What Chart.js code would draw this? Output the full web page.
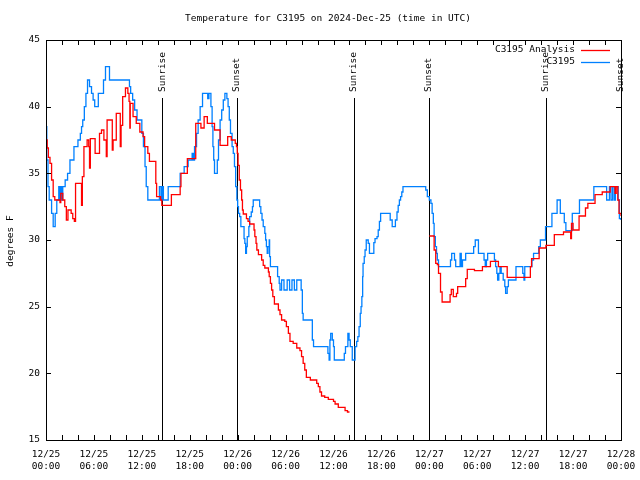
<!DOCTYPE html>
<html><head><meta charset="utf-8">
<script src="https://cdn.jsdelivr.net/npm/chart.js@4.4.0/dist/chart.umd.min.js"></script>
<style>html,body{margin:0;padding:0;background:#fff;} canvas{display:block;}</style>
</head><body>
<canvas id="c" width="640" height="480"></canvas>
<script>
const titleText = 'Temperature for C3195 on 2024-Dec-25 (time in UTC)';
const yAxisLabel = 'degrees F';
const dateLabels = ['12/25', '12/26', '12/27', '12/28'];
const timeLabels = ['00:00', '06:00', '12:00', '18:00'];
const seriesNames = ['C3195 Analysis', 'C3195'];
const seriesColors = ['#ff0000', '#0080ff'];
const eventHours = [14.53, 23.92, 38.57, 47.96, 62.61, 72.0];
const eventNames = ['Sunrise', 'Sunset', 'Sunrise', 'Sunset', 'Sunrise', 'Sunset'];

// hours since 12/25 00:00 UTC
const analysisHours = [0.0,0.15,0.3,0.5,0.7,0.9,1.1,1.75,1.85,2.1,2.35,2.55,2.75,3.15,3.35,3.55,3.7,4.45,4.55,4.75,5.15,5.35,5.45,5.55,6.15,6.7,6.95,7.25,7.55,7.65,8.3,8.4,8.8,9.3,9.4,9.6,9.95,10.25,10.4,10.5,10.55,10.9,11.3,11.75,12.15,12.35,12.75,12.95,13.75,13.85,14.35,14.5,15.7,16.8,16.9,17.7,18.75,19.4,19.8,20.2,21.1,21.8,22.75,23.2,23.7,23.85,23.95,24.05,24.2,24.35,24.5,24.6,24.7,25.1,25.3,25.5,26.05,26.15,26.3,26.4,26.6,27.0,27.2,27.4,27.85,27.95,28.1,28.25,28.4,28.6,29.1,29.3,29.5,29.9,30.1,30.35,30.55,30.95,31.4,31.8,32.0,32.2,32.4,32.6,33.1,33.9,34.1,34.3,34.5,34.9,35.35,36.0,36.2,36.6,37.45,37.75,38.0,38.05,48.0,48.6,48.8,49.0,49.15,49.4,49.6,50.6,50.75,51.0,51.4,51.55,52.55,52.75,53.65,54.65,55.65,56.65,57.75,60.65,60.8,61.75,62.6,63.65,64.8,65.7,65.8,66.0,66.75,67.55,67.85,68.75,69.65,70.65,71.25,71.4,71.6,71.75,72.0];
const analysisTemps = [37.5,36.9,36.2,35.75,34.5,33.25,33,32.8,33.5,33,32.5,31.5,32.25,32,31.6,31.4,34.25,32.6,34.75,37,37.5,37,35.4,37.6,36.5,38,38.25,37.5,36.25,39,36.75,37.5,39.5,37,38.6,40.75,41.4,41,40.4,38.4,40.25,39.25,38.75,38.1,37.75,37,36.5,35.9,34.25,33.25,33,32.6,33.4,34,35,36.1,38.75,38.4,39.25,38.75,38.25,37.1,37.75,37.5,37.25,37,36.5,35.6,34.5,33.75,33,32.25,31.95,31.6,31.4,31.2,30.75,30.25,29.75,29.25,28.9,28.5,28.1,27.9,27.6,27.25,26.75,26.25,25.75,25.2,24.75,24.4,24,23.9,23.5,23,22.4,22.25,21.9,21.7,21.25,20.75,20.25,19.7,19.5,19.25,19,18.6,18.3,18.2,18.05,17.9,17.7,17.45,17.2,17.1,17.1,null,30.3,29.25,28.25,28.15,27.5,26.1,25.35,25.9,26.3,25.75,26,26.5,27.1,27.8,27.7,28,28.4,28,27.2,28,28.6,29.4,29.6,30.4,30.6,30.1,31.25,30.75,31.8,32.4,32.75,33.4,33.6,34,33.5,34,33,32,31.8];

const obsHours = [0.0,0.1,0.25,0.4,0.7,0.9,1.15,1.35,1.6,1.7,1.85,1.95,2.1,2.4,2.7,3.0,3.5,4.0,4.3,4.45,4.6,4.8,5.0,5.2,5.45,5.7,5.9,6.1,6.55,7.2,7.45,7.95,10.45,10.6,10.85,11.1,11.4,12.0,12.2,12.4,12.55,12.75,14.2,14.4,14.55,14.7,15.3,16.8,17.3,17.8,18.3,18.45,18.6,18.85,19.05,19.3,19.6,20.25,20.4,20.65,20.8,20.9,21.0,21.1,21.45,21.6,21.8,22.0,22.2,22.4,22.65,22.8,22.95,23.1,23.3,23.45,23.6,23.75,23.9,24.0,24.1,24.25,24.4,24.8,24.9,25.0,25.1,25.2,25.4,25.5,25.7,25.85,25.95,26.75,26.9,27.05,27.2,27.4,27.5,27.6,27.7,27.8,27.95,28.0,28.1,29.0,29.2,29.3,29.5,29.8,30.2,30.5,30.8,31.1,31.4,31.95,32.1,32.2,33.35,33.5,35.3,35.45,35.55,35.65,35.85,36.0,36.1,37.35,37.5,37.8,37.95,38.1,38.35,38.7,38.9,39.05,39.2,39.35,39.45,39.55,39.65,39.7,39.85,39.95,40.1,40.35,40.5,41.05,41.2,41.45,41.6,41.75,41.9,43.1,43.35,43.75,43.95,44.1,44.25,44.4,44.55,44.7,47.55,47.75,48.0,48.2,48.35,48.5,48.6,48.75,48.9,49.0,49.15,50.65,50.8,51.15,51.3,51.85,52.0,52.15,52.55,53.55,53.75,54.15,54.85,55.0,55.15,55.3,56.15,56.3,56.45,56.55,56.7,56.85,57.0,57.25,57.45,57.55,57.75,57.9,58.85,59.7,59.85,59.95,60.85,61.05,61.7,61.9,62.55,63.35,64.0,64.4,64.9,65.1,65.9,66.8,68.6,70.2,70.55,70.75,70.95,71.15,71.3,71.65,71.8,72.0];
const obsTemps = [38.5,36,34,33,32,31,32,33,34,33,34,33,34,34.5,35,36,37,37.5,38,38.5,39,40,41,42,41.5,41,40.5,40,41,42,43,42,41.5,41,40.5,39.75,39,38,37,35.5,34,33,34,33,34,33,34,35,35.5,36,36.5,36,37,38,39,40,41,40.6,41,40,38.5,37,36,35,36,37.5,39,39.75,40.5,41,40.6,40,39,38,37,36.5,35.5,34,33,32.5,32,31.75,31,30.1,29.75,29,29.5,30.25,31,31.75,32.1,32.5,33,32.5,32,31.5,31,30.5,30,29.5,29,29.5,30,28.75,28,27.25,26.75,26.25,27,26.25,27,26.25,27,26.25,27,26.25,24.5,24,22.5,22,21.5,21,22.5,23,22.5,22,21,21.5,22,23,22.5,22,21,22,22.4,22.75,23.5,24.5,25,25.75,27.25,28.25,28.75,29.25,30,29.75,29,29.8,30.1,30.25,30.75,31.4,32,31.5,31,31.5,32.1,32.6,33,33.25,33.6,34,33.75,33.25,33,32.75,32,31.25,30.25,29.5,29,28.5,28,28.5,29,28.5,28,29,28,28.5,29,29.5,30,29,28.5,28,28.5,29,28.5,28,27.5,27,27.5,28,27.5,27,26.5,26,26.5,27,28,27.5,27,28,28.5,29,29.5,30,31,32,33,32,31.3,30.7,32,33,34,33,34,33,34,33,34,33,31.6,31.5];

const FONT = '"DejaVu Sans Mono", "Liberation Mono", monospace';
const FS = 9.5;

function toPoints(xs, ys) { return xs.map((x, i) => ({ x: x, y: ys[i] })); }

const decorPlugin = {
  id: 'decor',
  beforeDatasetsDraw(chart) {
    const { ctx, chartArea: a, scales } = chart;
    const xs = scales.x;
    ctx.save();
    ctx.strokeStyle = '#000';
    ctx.lineWidth = 1;
    eventHours.forEach((h) => {
      const px = Math.round(xs.getPixelForValue(h)) + 0.5;
      ctx.beginPath();
      ctx.moveTo(px, a.top + 58);
      ctx.lineTo(px, a.bottom);
      ctx.stroke();
    });
    ctx.restore();
  },
  afterDatasetsDraw(chart) {
    const { ctx, chartArea: a, scales } = chart;
    const xs = scales.x, ys = scales.y;
    ctx.save();
    ctx.strokeStyle = '#000';
    ctx.fillStyle = '#000';
    ctx.lineWidth = 1;
    ctx.strokeRect(Math.round(a.left) + 0.5, Math.round(a.top) + 0.5, Math.round(a.right - a.left), Math.round(a.bottom - a.top));
    ctx.beginPath();
    for (let h = 0; h <= 72; h += 2) {
      const px = Math.round(xs.getPixelForValue(h)) + 0.5;
      ctx.moveTo(px, a.bottom); ctx.lineTo(px, a.bottom - 5);
      ctx.moveTo(px, a.top); ctx.lineTo(px, a.top + 5);
    }
    ys.ticks.forEach((t) => {
      const py = Math.round(ys.getPixelForValue(t.value)) + 0.5;
      ctx.moveTo(a.left, py); ctx.lineTo(a.left + 5, py);
      ctx.moveTo(a.right, py); ctx.lineTo(a.right - 5, py);
    });
    ctx.stroke();
    ctx.font = FS + 'px ' + FONT;
    eventHours.forEach((h, i) => {
      const px = xs.getPixelForValue(h);
      ctx.save();
      ctx.translate(px, a.top + 52);
      ctx.rotate(-Math.PI / 2);
      ctx.textAlign = 'left';
      ctx.textBaseline = 'middle';
      ctx.fillText(eventNames[i], 0, 0);
      ctx.restore();
    });
    const legRows = [50, 62];
    seriesNames.forEach((n, i) => {
      ctx.textAlign = 'right';
      ctx.textBaseline = 'middle';
      ctx.fillStyle = '#000';
      ctx.fillText(n, 575, legRows[i]);
      ctx.strokeStyle = seriesColors[i];
      ctx.lineWidth = 1.3;
      ctx.beginPath();
      ctx.moveTo(581, legRows[i] + 0.5);
      ctx.lineTo(610, legRows[i] + 0.5);
      ctx.stroke();
    });
    ctx.fillStyle = '#000';
    ctx.textAlign = 'center';
    ctx.textBaseline = 'middle';
    ctx.fillText(titleText, 328, 19);
    ctx.save();
    ctx.translate(11, 241);
    ctx.rotate(-Math.PI / 2);
    ctx.fillText(yAxisLabel, 0, 0);
    ctx.restore();
    ctx.restore();
  }
};

new Chart(document.getElementById('c'), {
  type: 'line',
  data: {
    datasets: [
      { label: seriesNames[0], data: toPoints(analysisHours, analysisTemps), borderColor: seriesColors[0], borderWidth: 1.3, pointRadius: 0, stepped: true, spanGaps: false, fill: false },
      { label: seriesNames[1], data: toPoints(obsHours, obsTemps), borderColor: seriesColors[1], borderWidth: 1.3, pointRadius: 0, stepped: true, spanGaps: false, fill: false }
    ]
  },
  options: {
    responsive: false,
    animation: false,
    devicePixelRatio: 1,
    layout: { padding: { left: 0, right: 19, top: 40, bottom: 0 } },
    plugins: { legend: { display: false }, title: { display: false }, tooltip: { enabled: false } },
    scales: {
      x: {
        type: 'linear', min: 0, max: 72,
        grid: { display: false, drawTicks: false },
        border: { display: false },
        afterFit(s) { s.height = 40; s.paddingLeft = 0; s.paddingRight = 0; },
        afterBuildTicks(s) { s.ticks = []; for (let h = 0; h <= 72; h += 6) s.ticks.push({ value: h }); },
        ticks: {
          maxRotation: 0, autoSkip: false, padding: 9, color: '#000',
          font: { family: FONT, size: FS, lineHeight: 1.25 },
          callback(v) { return [dateLabels[Math.floor(v / 24)], timeLabels[Math.round((v % 24) / 6)]]; }
        }
      },
      y: {
        min: 15, max: 45,
        grid: { display: false, drawTicks: false },
        border: { display: false },
        afterFit(s) { s.width = 46; s.paddingTop = 0; s.paddingBottom = 0; },
        ticks: { stepSize: 5, padding: 6, color: '#000', font: { family: FONT, size: FS } }
      }
    }
  },
  plugins: [decorPlugin]
});
</script>
</body></html>
